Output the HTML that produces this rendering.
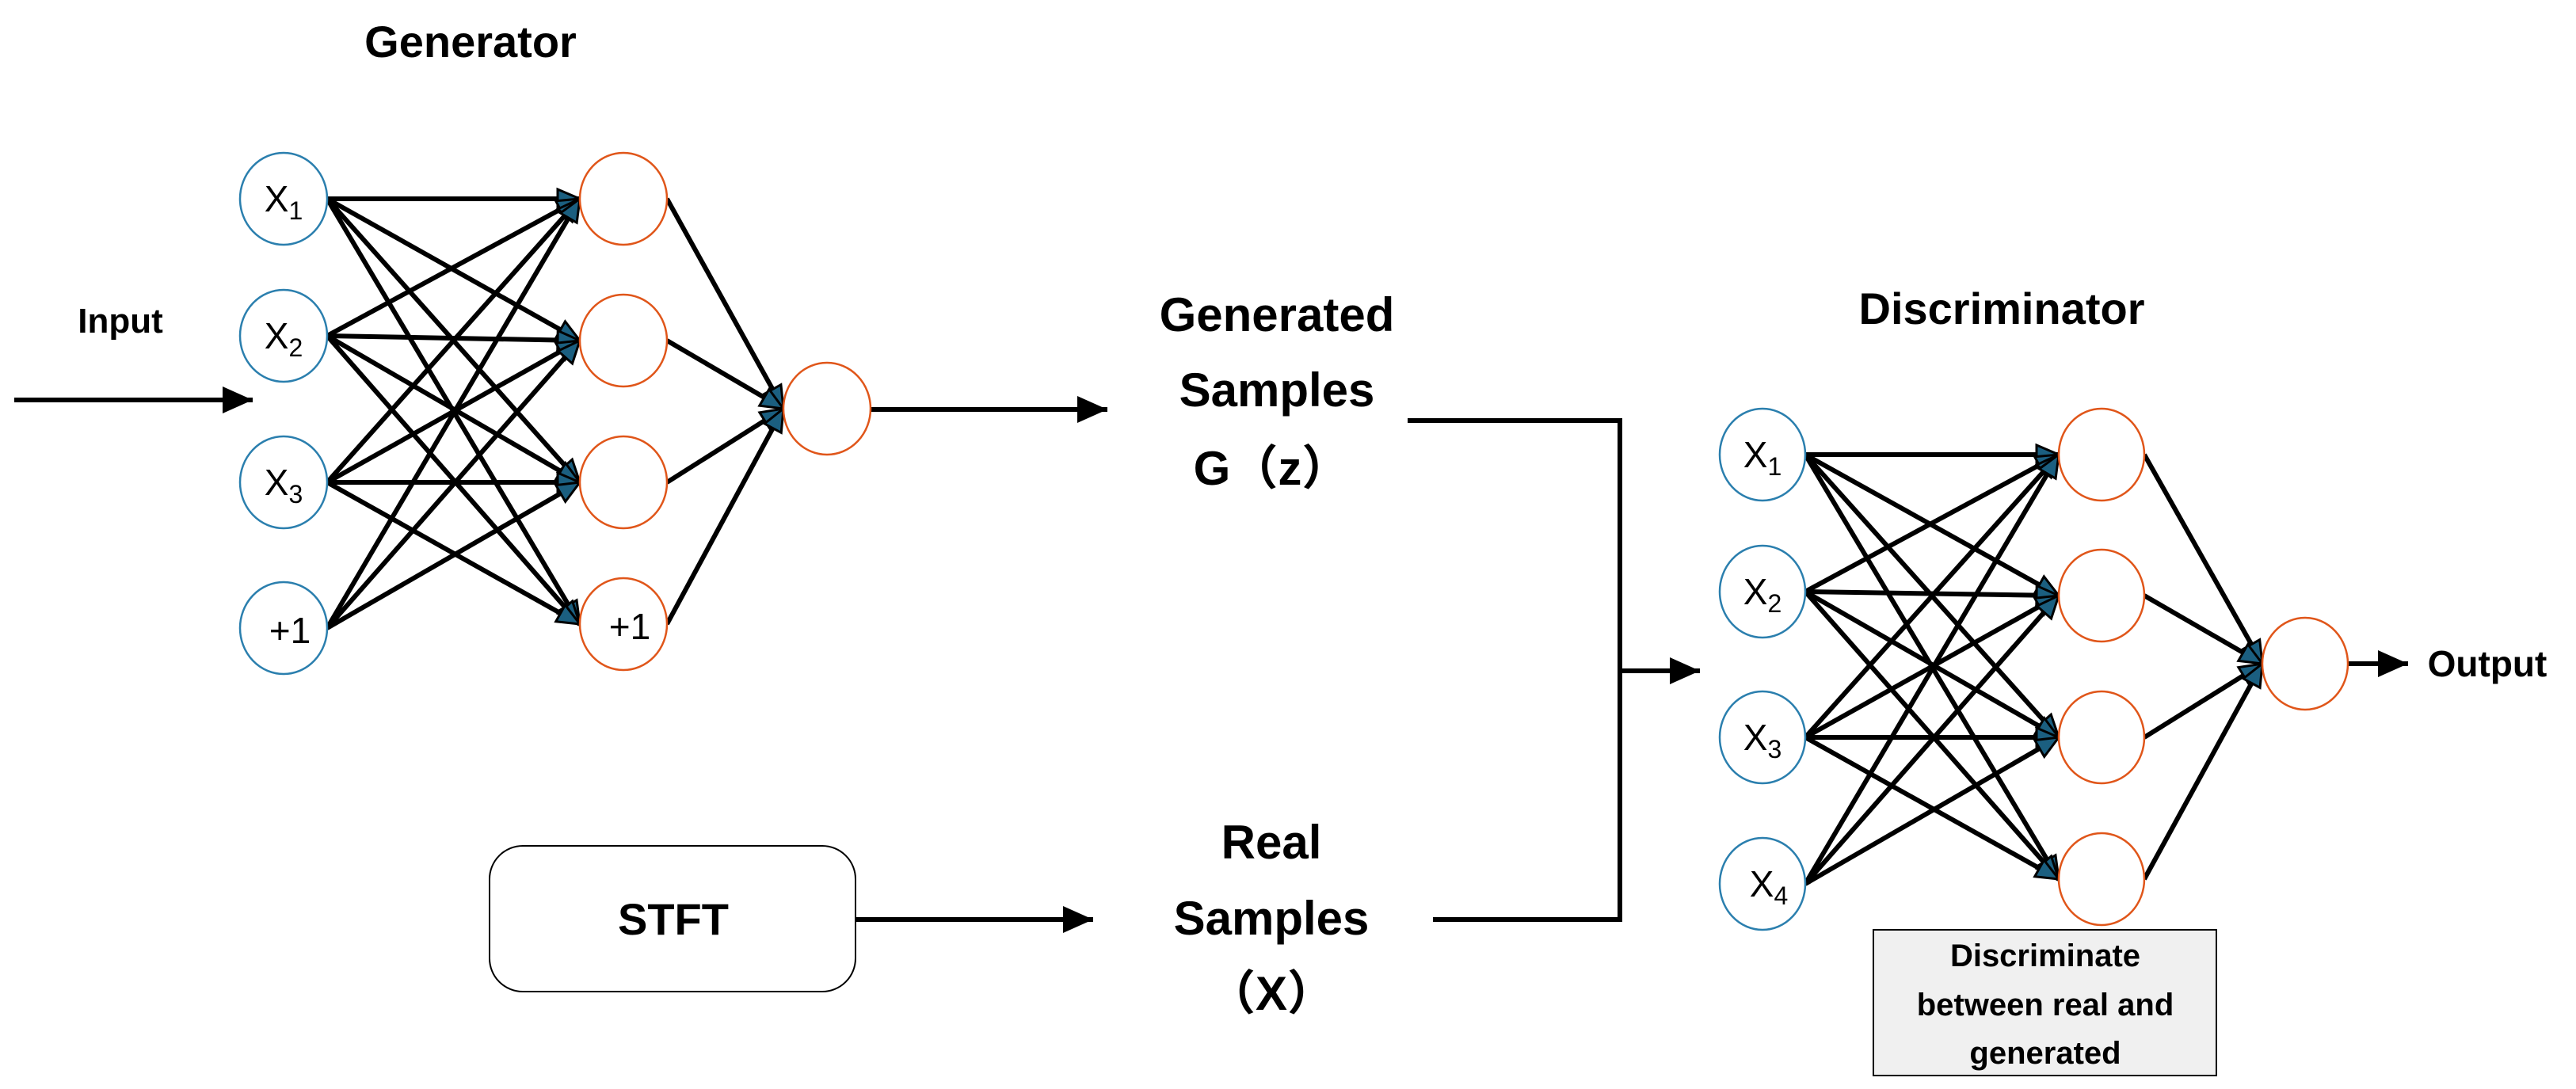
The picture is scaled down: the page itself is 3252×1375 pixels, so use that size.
<!DOCTYPE html>
<html><head><meta charset="utf-8"><style>
html,body{margin:0;padding:0;background:#fff}
svg{display:block}
text{font-family:"Liberation Sans","Noto Sans CJK SC",sans-serif}
.b{font-weight:bold}
</style></head><body>
<svg width="3252" height="1375" viewBox="0 0 3252 1375" xmlns="http://www.w3.org/2000/svg">
<defs>
<marker id="t" markerUnits="userSpaceOnUse" markerWidth="34" markerHeight="30" refX="30" refY="15" orient="auto">
<path d="M2,3 L30,15 L2,27 Z" fill="#1b5f80" stroke="#000" stroke-width="3"/>
</marker>
<marker id="k" markerUnits="userSpaceOnUse" markerWidth="40" markerHeight="34" refX="38" refY="17" orient="auto">
<path d="M0,0 L38,17 L0,34 Z" fill="#000"/>
</marker>
</defs>
<g stroke="#000" stroke-width="6" fill="none" id="gen">
<!-- generator edges -->
<line x1="413" y1="251" x2="732" y2="251" marker-end="url(#t)"/>
<line x1="413" y1="251" x2="732" y2="430" marker-end="url(#t)"/>
<line x1="413" y1="251" x2="732" y2="609" marker-end="url(#t)"/>
<line x1="413" y1="251" x2="732" y2="788" marker-end="url(#t)"/>
<line x1="413" y1="424" x2="732" y2="251" marker-end="url(#t)"/>
<line x1="413" y1="424" x2="732" y2="430" marker-end="url(#t)"/>
<line x1="413" y1="424" x2="732" y2="609" marker-end="url(#t)"/>
<line x1="413" y1="424" x2="732" y2="788" marker-end="url(#t)"/>
<line x1="413" y1="609" x2="732" y2="251" marker-end="url(#t)"/>
<line x1="413" y1="609" x2="732" y2="430" marker-end="url(#t)"/>
<line x1="413" y1="609" x2="732" y2="609" marker-end="url(#t)"/>
<line x1="413" y1="609" x2="732" y2="788" marker-end="url(#t)"/>
<line x1="413" y1="793" x2="732" y2="251" marker-end="url(#t)"/>
<line x1="413" y1="793" x2="732" y2="430" marker-end="url(#t)"/>
<line x1="413" y1="793" x2="732" y2="609" marker-end="url(#t)"/>
<line x1="842" y1="251" x2="989" y2="516" marker-end="url(#t)"/>
<line x1="842" y1="430" x2="989" y2="516" marker-end="url(#t)"/>
<line x1="842" y1="609" x2="989" y2="516" marker-end="url(#t)"/>
<line x1="842" y1="788" x2="989" y2="516" marker-end="url(#t)"/>
<!-- discriminator edges -->
<line x1="2279" y1="574" x2="2599" y2="574" marker-end="url(#t)"/>
<line x1="2279" y1="574" x2="2599" y2="752" marker-end="url(#t)"/>
<line x1="2279" y1="574" x2="2599" y2="931" marker-end="url(#t)"/>
<line x1="2279" y1="574" x2="2599" y2="1110" marker-end="url(#t)"/>
<line x1="2279" y1="747" x2="2599" y2="574" marker-end="url(#t)"/>
<line x1="2279" y1="747" x2="2599" y2="752" marker-end="url(#t)"/>
<line x1="2279" y1="747" x2="2599" y2="931" marker-end="url(#t)"/>
<line x1="2279" y1="747" x2="2599" y2="1110" marker-end="url(#t)"/>
<line x1="2279" y1="931" x2="2599" y2="574" marker-end="url(#t)"/>
<line x1="2279" y1="931" x2="2599" y2="752" marker-end="url(#t)"/>
<line x1="2279" y1="931" x2="2599" y2="931" marker-end="url(#t)"/>
<line x1="2279" y1="931" x2="2599" y2="1110" marker-end="url(#t)"/>
<line x1="2279" y1="1116" x2="2599" y2="574" marker-end="url(#t)"/>
<line x1="2279" y1="1116" x2="2599" y2="752" marker-end="url(#t)"/>
<line x1="2279" y1="1116" x2="2599" y2="931" marker-end="url(#t)"/>
<line x1="2707" y1="574" x2="2856" y2="838" marker-end="url(#t)"/>
<line x1="2707" y1="752" x2="2856" y2="838" marker-end="url(#t)"/>
<line x1="2707" y1="931" x2="2856" y2="838" marker-end="url(#t)"/>
<line x1="2707" y1="1110" x2="2856" y2="838" marker-end="url(#t)"/>
<!-- main arrows -->
<line x1="18" y1="505" x2="319" y2="505" marker-end="url(#k)"/>
<line x1="1098" y1="517" x2="1398" y2="517" marker-end="url(#k)"/>
<line x1="1080" y1="1161" x2="1380" y2="1161" marker-end="url(#k)"/>
<polyline points="1777,531 2045,531 2045,1161 1809,1161"/>
<line x1="2045" y1="847" x2="2146" y2="847" marker-end="url(#k)"/>
<line x1="2963" y1="838" x2="3040" y2="838" marker-end="url(#k)"/>
</g>
<!-- nodes -->
<g fill="#fff" stroke-width="2.5">
<g stroke="#2b7fae">
<ellipse cx="358" cy="251" rx="55" ry="58"/>
<ellipse cx="358" cy="424" rx="55" ry="58"/>
<ellipse cx="358" cy="609" rx="55" ry="58"/>
<ellipse cx="358" cy="793" rx="55" ry="58"/>
<ellipse cx="2225" cy="574" rx="54" ry="58"/>
<ellipse cx="2225" cy="747" rx="54" ry="58"/>
<ellipse cx="2225" cy="931" rx="54" ry="58"/>
<ellipse cx="2225" cy="1116" rx="54" ry="58"/>
</g>
<g stroke="#e0561a">
<ellipse cx="787" cy="251" rx="55" ry="58"/>
<ellipse cx="787" cy="430" rx="55" ry="58"/>
<ellipse cx="787" cy="609" rx="55" ry="58"/>
<ellipse cx="787" cy="788" rx="55" ry="58"/>
<ellipse cx="1044" cy="516" rx="55" ry="58"/>
<ellipse cx="2653" cy="574" rx="54" ry="58"/>
<ellipse cx="2653" cy="752" rx="54" ry="58"/>
<ellipse cx="2653" cy="931" rx="54" ry="58"/>
<ellipse cx="2653" cy="1110" rx="54" ry="58"/>
<ellipse cx="2910" cy="838" rx="54" ry="58"/>
</g>
</g>
<!-- node labels -->
<g font-size="46" fill="#000" text-anchor="middle">
<text x="358" y="267">X<tspan font-size="32" dy="10">1</tspan></text>
<text x="358" y="440">X<tspan font-size="32" dy="10">2</tspan></text>
<text x="358" y="625">X<tspan font-size="32" dy="10">3</tspan></text>
<text x="366" y="812">+1</text>
<text x="795" y="807">+1</text>
<text x="2225" y="590">X<tspan font-size="32" dy="10">1</tspan></text>
<text x="2225" y="763">X<tspan font-size="32" dy="10">2</tspan></text>
<text x="2225" y="947">X<tspan font-size="32" dy="10">3</tspan></text>
<text x="2233" y="1132">X<tspan font-size="32" dy="10">4</tspan></text>
</g>
<!-- STFT box -->
<rect x="618" y="1068" width="462" height="184" rx="42" fill="#fff" stroke="#000" stroke-width="2"/>
<rect x="2365" y="1174" width="433" height="184" fill="#f0f0f0" stroke="#000" stroke-width="2"/>
<!-- titles and labels -->
<g class="b" fill="#000" text-anchor="middle">
<text x="594" y="72" font-size="56">Generator</text>
<text x="2527" y="409" font-size="56">Discriminator</text>
<text x="152" y="420" font-size="44">Input</text>
<text x="3140" y="854" font-size="46">Output</text>
<text x="1612" y="418" font-size="60">Generated</text>
<text x="1612" y="513" font-size="60">Samples</text>
<text x="1605" y="612" font-size="60">G（z）</text>
<text x="1605" y="1084" font-size="60">Real</text>
<text x="1605" y="1180" font-size="60">Samples</text>
<text x="1605" y="1275" font-size="60">（X）</text>
<text x="850" y="1180" font-size="56">STFT</text>
<text x="2582" y="1220" font-size="40">Discriminate</text>
<text x="2582" y="1282" font-size="40">between real and</text>
<text x="2582" y="1343" font-size="40">generated</text>
</g>
</svg>
</body></html>
